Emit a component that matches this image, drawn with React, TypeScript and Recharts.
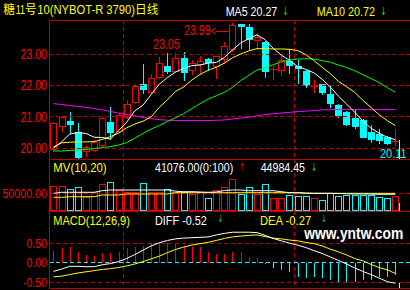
import React from "react";
import { ComposedChart, Bar, Line, XAxis, YAxis, ReferenceLine } from "recharts";

const RED = "#ff0000";
const FRAME = "#c00000";
const CYAN = "#00ffff";
const YELLOW = "#ffff00";
const GREEN = "#00ff00";
const MAGENTA = "#ff00ff";
const WHITE = "#ffffff";
const SANS = "'Liberation Sans', Arial, sans-serif";
const CJK = "'Noto Sans CJK SC', sans-serif";
const ARROW = "'DejaVu Sans', sans-serif";

// trading days (no date labels shown on the chart)
const DAYS = [
  "1", "2", "3", "4", "5", "6", "7", "8", "9", "10", "11", "12", "13", "14", "15",
  "16", "17", "18", "19", "20", "21", "22", "23", "24", "25", "26", "27", "28", "29",
  "30", "31", "32", "33", "34", "35", "36", "37", "38", "39", "40", "41", "42", "43",
];
// first trading day of a month (dashed separators)
const MONTH_STARTS = ["10", "31"];

const OPEN = [
  19.98, 20.72, 20.87, 20.5, 19.9, 19.95, 20.1, 20.84, 20.55, 21.0, 21.46, 22.04, 21.78, 22.28,
  22.62, 22.47, 22.86, 22.49, 22.68, 22.83, 22.62, 22.83, 23.15, 23.96, 23.87, 23.45, 23.39,
  22.5, 22.49, 22.79, 22.62, 22.47, 21.97, 22.04, 21.72, 21.38, 21.16, 20.95, 20.9, 20.52,
  20.45, 20.35, 20.21,
];
const HIGH = [
  20.82, 21.02, 21.16, 20.79, 20.07, 20.25, 21.0, 21.3, 21.12, 21.55, 22.04, 22.68, 22.36, 22.9,
  23.04, 23.02, 23.05, 22.8, 22.94, 22.88, 22.95, 23.39, 23.99, 23.97, 23.95, 23.66, 23.4,
  22.62, 22.97, 23.15, 22.81, 22.48, 22.17, 22.05, 22.01, 21.4, 21.2, 21.22, 20.92, 20.74,
  20.6, 20.4, 20.6,
];
const LOW = [
  19.9, 20.55, 20.48, 19.7, 19.75, 19.9, 20.05, 20.28, 20.5, 20.95, 21.43, 21.77, 21.75, 22.25,
  22.4, 22.42, 22.17, 22.36, 22.39, 22.5, 22.23, 22.7, 23.1, 23.18, 23.15, 23.16, 22.26,
  22.2, 22.33, 22.39, 22.07, 21.94, 21.8, 21.73, 21.3, 21.0, 20.75, 20.65, 20.35, 20.21,
  20.17, 20.13, 20.11,
];
const CLOSE = [
  20.8, 21.0, 20.77, 19.72, 20.05, 20.2, 20.97, 20.53, 21.05, 21.4, 21.98, 21.88, 22.23, 22.7,
  22.47, 22.86, 22.44, 22.7, 22.79, 22.76, 22.94, 23.25, 23.92, 23.88, 23.47, 23.55, 22.47,
  22.52, 22.81, 22.65, 22.54, 22.01, 21.99, 21.8, 21.43, 21.06, 20.77, 20.7, 20.37, 20.28,
  20.26, 20.15, 20.23,
];

// price averages
const MA5 = [
  20.0, 20.2, 20.45, 20.5, 20.47, 20.35, 20.34, 20.29, 20.56, 20.83, 21.19, 21.37, 21.71, 22.04,
  22.25, 22.43, 22.54, 22.63, 22.65, 22.71, 22.73, 22.89, 23.13, 23.35, 23.49, 23.61, 23.46,
  23.18, 22.96, 22.8, 22.6, 22.51, 22.4, 22.2, 21.95, 21.66, 21.41, 21.15, 20.87, 20.64, 20.48,
  20.35, 20.27,
];
const MA10 = [
  20.04, 20.17, 20.19, 20.2, 20.2, 20.21, 20.28, 20.37, 20.48, 20.65, 20.77, 20.86, 21.0, 21.3,
  21.54, 21.81, 21.95, 22.17, 22.35, 22.48, 22.58, 22.71, 22.88, 23.0, 23.1, 23.17, 23.17,
  23.16, 23.16, 23.15, 23.11, 22.98, 22.79, 22.58, 22.38, 22.13, 21.96, 21.78, 21.53, 21.3,
  21.07, 20.88, 20.72,
];
const MA20 = [
  19.91, 19.91, 19.93, 19.94, 19.96, 19.99, 20.02, 20.05, 20.1, 20.18, 20.32, 20.47, 20.61,
  20.72, 20.85, 20.97, 21.1, 21.26, 21.42, 21.56, 21.67, 21.78, 21.94, 22.15, 22.32, 22.49,
  22.56, 22.66, 22.75, 22.81, 22.84, 22.85, 22.84, 22.79, 22.74, 22.65, 22.57, 22.47, 22.34,
  22.22, 22.09, 21.93, 21.78,
];
const MA60 = [
  21.42, 21.39, 21.36, 21.33, 21.3, 21.26, 21.22, 21.17, 21.12, 21.07, 21.03, 20.98, 20.94,
  20.91, 20.89, 20.88, 20.88, 20.88, 20.88, 20.88, 20.89, 20.9, 20.93, 20.96, 20.99, 21.03,
  21.07, 21.1, 21.12, 21.14, 21.17, 21.18, 21.2, 21.22, 21.23, 21.23, 21.23, 21.23, 21.23,
  21.23, 21.23, 21.23, 21.23,
];

const VOL = [
  70700, 70700, 61300, 67000, 38700, 54600, 76300, 81100, 59400, 54600, 54600, 78300, 54600,
  54600, 61300, 54600, 54600, 48100, 52300, 35900, 59400, 67000, 89600, 48100, 67000, 48100,
  76300, 35900, 35900, 45200, 42400, 42400, 35900, 31100, 49500, 42400, 45200, 45200, 45200,
  45200, 38700, 35900, 42400,
];
const VMA10 = [
  50000, 52900, 52900, 52900, 52900, 52900, 57400, 59400, 59400, 59400, 59400, 59400, 59400,
  59400, 59400, 56000, 54600, 54600, 53700, 52900, 53700, 58000, 59400, 59400, 57400, 57400,
  57400, 57400, 54600, 51700, 51700, 50900, 50000, 50000, 50000, 49500, 48600, 48100, 48100,
  47700, 47200, 47200, 47200,
];
const VMA20 = [
  38700, 38700, 40400, 40400, 40400, 40400, 45200, 45200, 45200, 48100, 48100, 48100, 48100,
  48100, 48100, 51700, 51700, 51700, 51700, 51700, 51700, 51700, 51700, 51700, 51700, 51700,
  51700, 51700, 51700, 51700, 51700, 50000, 50000, 50000, 50000, 50000, 50000, 50000, 50000,
  50000, 50000, 50000, 50000,
];

const DIFF = [
  -0.22, -0.16, -0.09, -0.09, -0.1, -0.1, -0.05, -0.02, 0.03, 0.11, 0.21, 0.32, 0.43, 0.51,
  0.57, 0.61, 0.63, 0.64, 0.65, 0.66, 0.71, 0.75, 0.78, 0.78, 0.78, 0.77, 0.7, 0.62, 0.56, 0.5,
  0.45, 0.39, 0.31, 0.24, 0.15, 0.06, -0.03, -0.13, -0.22, -0.3, -0.39, -0.48, -0.52,
];
const DEA = [
  -0.36, -0.34, -0.3, -0.26, -0.23, -0.2, -0.17, -0.15, -0.12, -0.08, -0.03, 0.03, 0.1, 0.17,
  0.26, 0.34, 0.4, 0.45, 0.49, 0.52, 0.57, 0.62, 0.66, 0.68, 0.7, 0.71, 0.67, 0.63, 0.61, 0.58,
  0.56, 0.52, 0.49, 0.43, 0.35, 0.28, 0.2, 0.11, 0.05, -0.04, -0.12, -0.18, -0.27,
];
const MACD = [
  0.3, 0.385, 0.41, 0.28, 0.2, 0.18, 0.24, 0.24, 0.28, 0.385, 0.41, 0.44, 0.5, 0.5, 0.5, 0.47,
  0.44, 0.41, 0.41, 0.27, 0.22, 0.22, 0.27, 0.27, 0.16, 0.13, -0.02, -0.14, -0.18, -0.23,
  -0.35, -0.4, -0.35, -0.4, -0.44, -0.5, -0.5, -0.5, -0.44, -0.44, -0.375, -0.35, -0.3,
];

const PRICE_TICKS = [20, 21, 22, 23];
const VOL_TICKS = [50000];
const MACD_TICKS = [0.5, 0, -0.5];

const rows = DAYS.map((day, i) => ({
  day,
  open: OPEN[i],
  high: HIGH[i],
  low: LOW[i],
  close: CLOSE[i],
  ma5: MA5[i],
  ma10: MA10[i],
  ma20: MA20[i],
  ma60: MA60[i],
  vol: VOL[i],
  vma10: VMA10[i],
  vma20: VMA20[i],
  diff: DIFF[i],
  dea: DEA[i],
  macd: MACD[i],
}));

const PEAK = HIGH.indexOf(Math.max(...HIGH));
const EARLY = HIGH.indexOf(Math.max(...HIGH.slice(0, 20)));
const LAST = DAYS.length - 1;

// narrow bitmap-like digits: fixed widths per glyph
function numWidth(s: string) {
  let w = 0;
  for (const ch of s) w += ch === "." ? 2.6 : ch === "-" ? 3.4 : 6;
  return w;
}

let measureCtx: CanvasRenderingContext2D | null = null;
function measure(text: string, size: number, family: string, weight?: string) {
  if (!measureCtx) measureCtx = document.createElement("canvas").getContext("2d");
  if (!measureCtx) return text.length * size * 0.55;
  measureCtx.font = `${weight || "normal"} ${size}px ${family}`;
  return measureCtx.measureText(text).width || 1;
}

// text squeezed horizontally to the width of the old bitmap font
function Txt({ x, y, w, size = 12, fill, family = SANS, weight, children }: any) {
  const text = String(children);
  const k = w / measure(text, size, family, weight);
  return (
    <text
      transform={`translate(${x},${y}) scale(${k.toFixed(4)},1)`}
      fontSize={size}
      fill={fill}
      fontFamily={family}
      fontWeight={weight}
    >
      {text}
    </text>
  );
}

function AxisTick({ x, y, payload, size }: any) {
  const label = Number(payload.value).toFixed(2);
  const w = numWidth(label);
  return (
    <Txt x={x - w} y={y + size * 0.36} w={w} size={size} fill={RED}>
      {label}
    </Txt>
  );
}

// dashed month separator at the left edge of the day's slot
function MonthMark({ day, c, panelH }: any) {
  if (!MONTH_STARTS.includes(day)) return null;
  return (
    <line
      x1={c - 3.5}
      x2={c - 3.5}
      y1={0}
      y2={panelH}
      stroke={FRAME}
      strokeDasharray="4 3"
      shapeRendering="crispEdges"
    />
  );
}

function Candle(props: any) {
  const { x, y, width, height, payload, panelH } = props;
  if (!payload || x == null) return null;
  const i = DAYS.indexOf(payload.day);
  const { open, high, low, close } = payload;
  const top = Math.min(y, y + height);
  const h = Math.abs(height);
  const span = high - low || 1;
  const py = (v: number) => top + ((high - v) / span) * h;
  const c = Math.floor(x + width / 2);
  const up = close >= open;
  const col = up ? RED : CYAN;
  const yH = Math.round(py(high));
  const yL = Math.round(py(low));
  const yO = Math.round(py(open));
  const yC = Math.round(py(close));
  const bT = Math.min(yO, yC);
  const bB = Math.max(yO, yC);

  let body;
  if (bB - bT <= 1) {
    body = (
      <g stroke={col}>
        <line x1={c + 0.5} x2={c + 0.5} y1={yH} y2={yL + 1} />
        <line x1={c - 3} x2={c + 4} y1={bT + 0.5} y2={bT + 0.5} />
      </g>
    );
  } else if (up) {
    body = (
      <g stroke={col}>
        <line x1={c + 0.5} x2={c + 0.5} y1={yH} y2={bT} />
        <line x1={c + 0.5} x2={c + 0.5} y1={bB + 1} y2={yL + 1} />
        <rect x={c - 2.5} y={bT + 0.5} width={6} height={bB - bT} fill="#000" />
      </g>
    );
  } else {
    body = (
      <g>
        <line x1={c + 0.5} x2={c + 0.5} y1={yH} y2={yL + 1} stroke={col} />
        <rect x={c - 3} y={bT} width={7} height={bB - bT + 1} fill={col} />
      </g>
    );
  }

  return (
    <g shapeRendering="crispEdges">
      <MonthMark day={payload.day} c={c} panelH={panelH} />
      {body}
      {i === PEAK && (
        <g>
          <Txt x={c - 48} y={yH + 12} w={26.6} size={14} fill={RED}>
            {high.toFixed(2)}
          </Txt>
          <polyline
            points={`${c - 16},${yH + 5} ${c - 21},${yH + 8} ${c - 16},${yH + 11}`}
            fill="none"
            stroke={RED}
            shapeRendering="auto"
          />
          <line x1={c - 16} x2={c - 3} y1={yH + 8.5} y2={yH + 8.5} stroke={RED} strokeDasharray="3 1" />
        </g>
      )}
      {i === EARLY && (
        <Txt x={c - 31} y={yH - 3} w={26.6} size={14} fill={RED}>
          {high.toFixed(2)}
        </Txt>
      )}
      {i === LAST && (
        <Txt x={c - 15} y={yL + 12.6} w={26.7} size={13} fill={CYAN}>
          {low.toFixed(2)}
        </Txt>
      )}
    </g>
  );
}

function VolBar(props: any) {
  const { x, y, width, height, payload, panelH } = props;
  if (!payload || x == null) return null;
  const c = Math.floor(x + width / 2);
  const top = Math.round(Math.min(y, y + height));
  const bot = Math.round(Math.max(y, y + height));
  const col = payload.close >= payload.open ? RED : CYAN;
  return (
    <g>
      <MonthMark day={payload.day} c={c} panelH={panelH} />
      <rect
        x={c - 2.5}
        y={top + 0.5}
        width={6}
        height={bot - top - 1}
        fill="#000"
        stroke={col}
        shapeRendering="crispEdges"
      />
    </g>
  );
}

function MacdBar(props: any) {
  const { x, y, width, height, payload, panelH } = props;
  if (!payload || x == null) return null;
  const c = Math.floor(x + width / 2);
  const a = Math.round(Math.min(y, y + height));
  const b = Math.round(Math.max(y, y + height));
  return (
    <g>
      <MonthMark day={payload.day} c={c} panelH={panelH} />
      <line
        x1={c + 0.5}
        x2={c + 0.5}
        y1={a}
        y2={b}
        stroke={payload.macd >= 0 ? RED : CYAN}
        shapeRendering="crispEdges"
      />
    </g>
  );
}

const X_PAD = { left: 0.4, right: 10.6 };
const DASH = "4 3";

function PricePanel() {
  return (
    <ComposedChart width={410} height={141} data={rows} margin={{ top: 0, right: 0, bottom: 2, left: 0 }}>
      <XAxis dataKey="day" hide height={0} padding={X_PAD} />
      <YAxis
        width={49}
        domain={[19.656, 24.083]}
        ticks={PRICE_TICKS}
        interval={0}
        axisLine={false}
        tickLine={false}
        tickSize={0}
        tickMargin={2}
        tick={(p: any) => <AxisTick {...p} size={14} />}
      />
      {PRICE_TICKS.map((t) => (
        <ReferenceLine key={t} y={t} stroke={FRAME} strokeDasharray={DASH} shapeRendering="crispEdges" />
      ))}
      <Bar
        dataKey={(d: any) => [d.low, d.high]}
        barSize={7}
        shape={(p: any) => <Candle {...p} panelH={139} />}
        isAnimationActive={false}
      />
      <Line dataKey="ma60" stroke={MAGENTA} strokeWidth={1} dot={false} activeDot={false} isAnimationActive={false} />
      <Line dataKey="ma20" stroke={GREEN} strokeWidth={1} dot={false} activeDot={false} isAnimationActive={false} />
      <Line dataKey="ma10" stroke={YELLOW} strokeWidth={1} dot={false} activeDot={false} isAnimationActive={false} />
      <Line dataKey="ma5" stroke={WHITE} strokeWidth={1} dot={false} activeDot={false} isAnimationActive={false} />
    </ComposedChart>
  );
}

function VolumePanel() {
  return (
    <ComposedChart width={410} height={52} data={rows} margin={{ top: 0, right: 0, bottom: 0, left: 0 }}>
      <XAxis dataKey="day" hide height={0} padding={X_PAD} />
      <YAxis
        width={49}
        domain={[0, 147000]}
        ticks={VOL_TICKS}
        interval={0}
        axisLine={false}
        tickLine={false}
        tickSize={0}
        tickMargin={2}
        tick={(p: any) => <AxisTick {...p} size={12} />}
      />
      <ReferenceLine y={VOL_TICKS[0]} stroke={FRAME} strokeDasharray={DASH} shapeRendering="crispEdges" />
      <Bar dataKey="vol" barSize={7} shape={(p: any) => <VolBar {...p} panelH={52} />} isAnimationActive={false} />
      <Line dataKey="vma20" stroke={YELLOW} strokeWidth={1} dot={false} activeDot={false} isAnimationActive={false} />
      <Line dataKey="vma10" stroke={WHITE} strokeWidth={1} dot={false} activeDot={false} isAnimationActive={false} />
    </ComposedChart>
  );
}

function MacdPanel() {
  return (
    <ComposedChart width={410} height={79} data={rows} margin={{ top: 0, right: 0, bottom: 2, left: 0 }}>
      <XAxis dataKey="day" hide height={0} padding={X_PAD} />
      <YAxis
        width={49}
        domain={[-0.643, 1.321]}
        ticks={MACD_TICKS}
        interval={0}
        axisLine={false}
        tickLine={false}
        tickSize={0}
        tickMargin={2}
        tick={(p: any) => <AxisTick {...p} size={12} />}
      />
      <ReferenceLine y={0.5} stroke={FRAME} strokeDasharray={DASH} shapeRendering="crispEdges" />
      <ReferenceLine y={-0.5} stroke={FRAME} strokeDasharray={DASH} shapeRendering="crispEdges" />
      <ReferenceLine y={0} stroke={CYAN} strokeDasharray={DASH} shapeRendering="crispEdges" />
      <Bar dataKey="macd" barSize={1} shape={(p: any) => <MacdBar {...p} panelH={77} />} isAnimationActive={false} />
      <Line dataKey="dea" stroke={YELLOW} strokeWidth={1} dot={false} activeDot={false} isAnimationActive={false} />
      <Line dataKey="diff" stroke={WHITE} strokeWidth={1} dot={false} activeDot={false} isAnimationActive={false} />
    </ComposedChart>
  );
}

export default function App() {
  return (
    <div style={{ position: "absolute", left: 0, top: 0, width: 410, height: 290, background: "#000", overflow: "hidden" }}>
      <div style={{ position: "absolute", left: 0, top: 20 }}>
        <PricePanel />
      </div>
      <div style={{ position: "absolute", left: 0, top: 159 }}>
        <VolumePanel />
      </div>
      <div style={{ position: "absolute", left: 0, top: 211 }}>
        <MacdPanel />
      </div>
      {/* frame, headers, watermark */}
      <svg width={410} height={290} style={{ position: "absolute", left: 0, top: 0, pointerEvents: "none" }}>
        <g stroke={FRAME} shapeRendering="crispEdges">
          <line x1={49} x2={410} y1={20.5} y2={20.5} />
          <line x1={49.5} x2={49.5} y1={20} y2={289} />
          <line x1={49} x2={410} y1={159.5} y2={159.5} />
          <line x1={49} x2={410} y1={211.5} y2={211.5} />
          <line x1={49} x2={410} y1={288.5} y2={288.5} />
        </g>
        <g stroke={YELLOW} shapeRendering="crispEdges">
          <line x1={399.5} x2={399.5} y1={140} y2={159} />
          <line x1={399.5} x2={399.5} y1={203} y2={211} />
          <line x1={399.5} x2={399.5} y1={283} y2={288} />
        </g>

        <Txt x={3.3} y={14} w={11.7} size={12.5} fill={YELLOW} family={CJK}>糖</Txt>
        <Txt x={15.7} y={14} w={9.3} size={12.5} fill={YELLOW}>11</Txt>
        <Txt x={25} y={14} w={11.7} size={12.5} fill={YELLOW} family={CJK}>号</Txt>
        <Txt x={37.3} y={14} w={97.7} size={12.5} fill={YELLOW}>10(NYBOT-R 3790)</Txt>
        <Txt x={135} y={14} w={23.3} size={12.5} fill={YELLOW} family={CJK}>日线</Txt>

        <Txt x={225.7} y={16} w={51.6} size={13} fill={WHITE}>MA5 20.27</Txt>
        <Txt x={283} y={15} w={5} size={11} fill={GREEN} family={ARROW}>↓</Txt>
        <Txt x={316.7} y={16} w={58.3} size={13} fill={YELLOW}>MA10 20.72</Txt>
        <Txt x={381} y={15} w={5} size={11} fill={GREEN} family={ARROW}>↓</Txt>

        <Txt x={53.3} y={171.5} w={53.4} size={12} fill={YELLOW}>MV(10,20)</Txt>
        <Txt x={155} y={171.5} w={78.3} size={12} fill={WHITE}>41076.00(0:100)</Txt>
        <Txt x={239.5} y={170.5} w={5} size={11} fill={RED} family={ARROW}>↑</Txt>
        <Txt x={260.7} y={171.5} w={44.3} size={12} fill={WHITE}>44984.45</Txt>
        <Txt x={311.5} y={170.5} w={5} size={11} fill={GREEN} family={ARROW}>↓</Txt>

        <Txt x={53.3} y={224.5} w={76.7} size={12} fill={YELLOW}>MACD(12,26,9)</Txt>
        <Txt x={155} y={224.5} w={55} size={12} fill={WHITE}>DIFF  -0.52</Txt>
        <Txt x={218} y={222} w={4.5} size={10} fill={GREEN} family={ARROW}>↓</Txt>
        <Txt x={260} y={224.5} w={55} size={12} fill={YELLOW}>DEA  -0.27</Txt>
        <Txt x={321.5} y={221.5} w={4.5} size={10} fill={GREEN} family={ARROW}>↓</Txt>

        <Txt x={304.3} y={238.5} w={99} size={16} fill={WHITE} weight="bold">www.yntw.com</Txt>
      </svg>
    </div>
  );
}
